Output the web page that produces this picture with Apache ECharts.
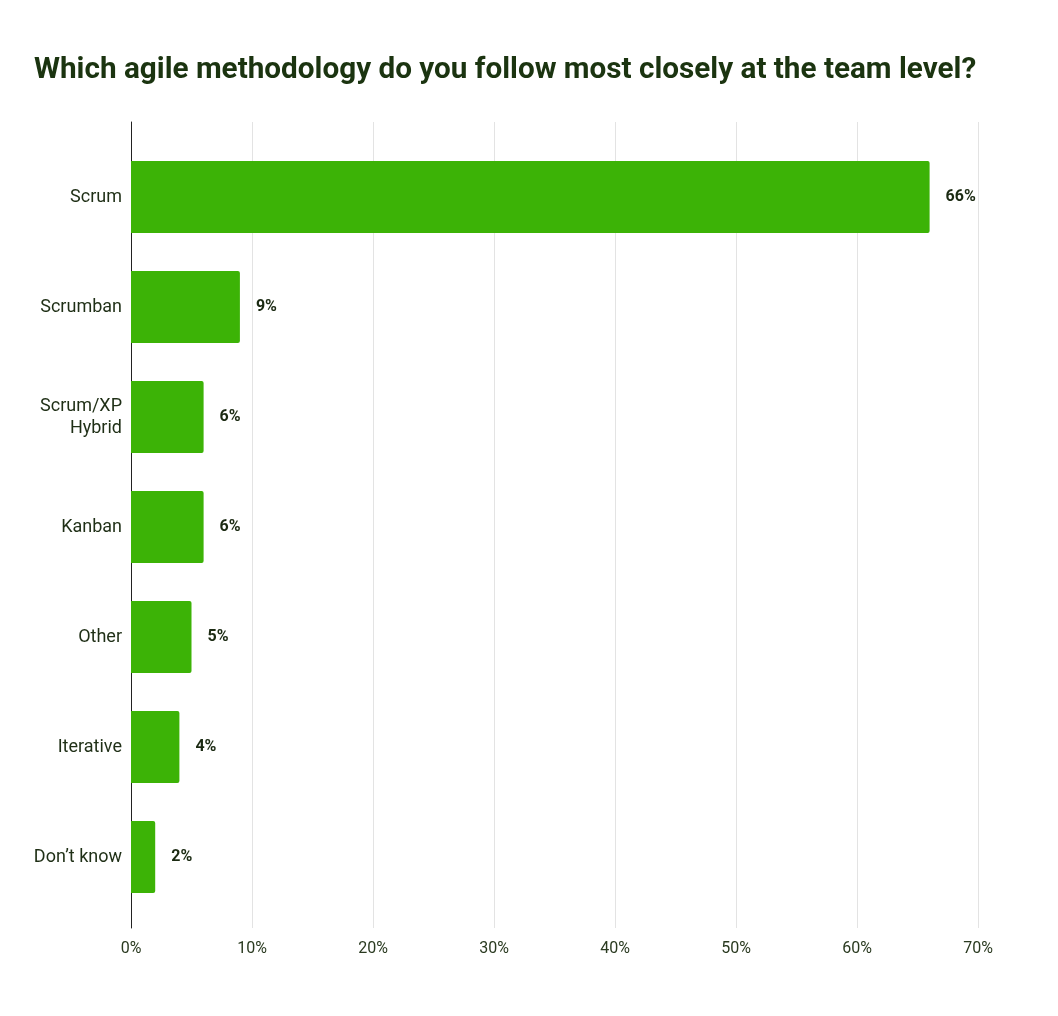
<!DOCTYPE html>
<html><head><meta charset="utf-8">
<script src="https://cdn.jsdelivr.net/npm/echarts@6/dist/echarts.min.js"></script>
<style>html,body{margin:0;padding:0;background:#fff}#c{width:1058px;height:1016px}</style>
</head><body><div id="c"></div>
<script>
const titleText = 'Which agile methodology do you follow most closely at the team level?';
const categories = ['Scrum', 'Scrumban', 'Scrum/XP\nHybrid', 'Kanban', 'Other', 'Iterative', 'Don\u2019t know'];
const values = [66, 9, 6, 6, 5, 4, 2];
const xTicks = [0, 10, 20, 30, 40, 50, 60, 70];

const chart = echarts.init(document.getElementById('c'), null, {renderer: 'canvas'});
chart.setOption({
  backgroundColor: '#fff',
  animation: false,
  textStyle: {fontFamily: 'Roboto'},
  title: {
    text: titleText, left: 29, top: 51,
    textStyle: {fontFamily: 'Roboto', fontWeight: 'bold', fontSize: 29.7, color: '#1b3410'}
  },
  grid: [
    {left: 131, right: 80, top: 122, bottom: 88},
    {left: 131, right: 80, top: 142, bottom: 104}
  ],
  xAxis: [
    {gridIndex: 0, type: 'value', min: xTicks[0], max: xTicks[xTicks.length - 1], interval: 10,
     axisLine: {show: false}, axisTick: {show: false},
     splitLine: {show: true, lineStyle: {color: '#e3e3e3', width: 1}},
     axisLabel: {formatter: '{value}%', fontSize: 16, color: '#2a3a20', margin: 13, fontFamily: 'Roboto'}},
    {gridIndex: 1, type: 'value', min: xTicks[0], max: xTicks[xTicks.length - 1], show: false}
  ],
  yAxis: [
    {gridIndex: 0, type: 'value', min: 0, max: 1, axisLine: {show: true, onZero: false, lineStyle: {color: '#222', width: 1}},
     axisTick: {show: false}, axisLabel: {show: false}, splitLine: {show: false}},
    {gridIndex: 1, type: 'category', data: categories, inverse: true,
     axisLine: {show: false}, axisTick: {show: false},
     axisLabel: {fontSize: 18, color: '#1f2f16', margin: 9, lineHeight: 22, align: 'right', fontFamily: 'Roboto',
                 padding: [3, 0, 0, 0]}}
  ],
  series: [{
    type: 'bar', xAxisIndex: 1, yAxisIndex: 1, data: values, barWidth: 72,
    itemStyle: {color: '#3cb306', borderRadius: [0, 2, 2, 0]},
    label: {show: true, position: 'right', distance: 16, formatter: '{c}%',
            fontSize: 16, fontWeight: 'bold', color: '#1b2a12', fontFamily: 'Roboto', padding: [3, 0, 0, 0]}
  }]
});
</script></body></html>
